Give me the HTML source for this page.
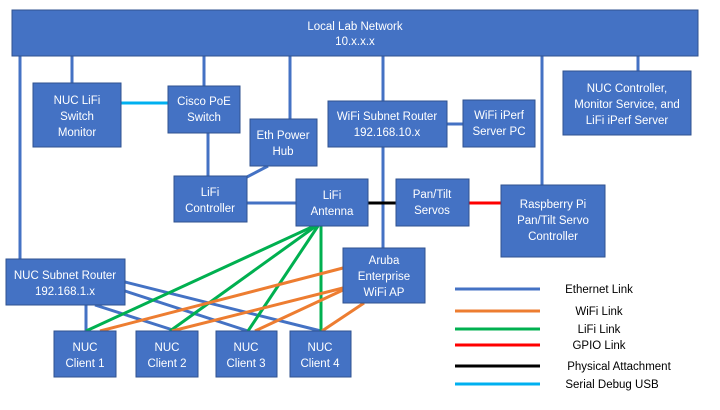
<!DOCTYPE html>
<html><head><style>
body{margin:0;width:720px;height:405px;background:#fff;overflow:hidden}
svg text{font-family:"Liberation Sans",sans-serif;font-size:11.5px;fill:#fff;text-anchor:middle}
.l text{fill:#000;font-size:11.5px}
</style></head><body>
<svg width="720" height="405" xmlns="http://www.w3.org/2000/svg">
<g stroke-width="3" fill="none">
<g stroke="#4472C4">
<line x1="20" y1="56" x2="20" y2="259"/>
<line x1="72" y1="56" x2="72" y2="83"/>
<line x1="204" y1="56" x2="204" y2="86"/>
<line x1="290" y1="56" x2="290" y2="119"/>
<line x1="383" y1="56" x2="383" y2="248"/>
<line x1="542" y1="56" x2="542" y2="185"/>
<line x1="638" y1="56" x2="638" y2="71"/>
<line x1="208" y1="133" x2="208" y2="176"/>
<line x1="268" y1="166" x2="245" y2="178"/>
<line x1="247" y1="203" x2="296" y2="203"/>
<line x1="447" y1="124" x2="463" y2="124"/>
<line x1="125" y1="282" x2="321" y2="331"/>
<line x1="125" y1="291" x2="248" y2="331"/>
<line x1="95" y1="305" x2="176" y2="331"/>
<line x1="86" y1="305" x2="86" y2="331"/>
</g>
<line x1="121" y1="103" x2="168" y2="103" stroke="#00B0F0"/>
<line x1="368" y1="203" x2="396" y2="203" stroke="#000"/>
<line x1="469" y1="203" x2="501" y2="203" stroke="#FF0000"/>
<g stroke="#00B050">
<line x1="314" y1="226" x2="86" y2="331"/>
<line x1="316" y1="226" x2="170" y2="331"/>
<line x1="318" y1="226" x2="248" y2="331"/>
<line x1="321" y1="226" x2="321" y2="331"/>
</g>
<g stroke="#ED7D31">
<line x1="343" y1="268" x2="100" y2="331"/>
<line x1="343" y1="288" x2="172" y2="331"/>
<line x1="343" y1="290" x2="255" y2="331"/>
<line x1="364" y1="303" x2="322" y2="331"/>
</g>
</g>
<g fill="#4472C4" stroke="#2F528F" stroke-width="1">
<rect x="12" y="10" width="686" height="46"/>
<rect x="33" y="83" width="88" height="64"/>
<rect x="168" y="86" width="72" height="47"/>
<rect x="250" y="119" width="67" height="47"/>
<rect x="174" y="176" width="73" height="46"/>
<rect x="296" y="179" width="72" height="47"/>
<rect x="328" y="101" width="119" height="46"/>
<rect x="463" y="100" width="72" height="47"/>
<rect x="563" y="71" width="128" height="64"/>
<rect x="396" y="179" width="73" height="47"/>
<rect x="501" y="185" width="104" height="72"/>
<rect x="343" y="248" width="82" height="55"/>
<rect x="6" y="259" width="119" height="46"/>
<rect x="54" y="331" width="62" height="46"/>
<rect x="136" y="331" width="62" height="46"/>
<rect x="216" y="331" width="61" height="46"/>
<rect x="290" y="331" width="61" height="46"/>
</g>
<text x="355" y="30">Local Lab Network</text><text x="355" y="45">10.x.x.x</text>
<text x="77" y="104">NUC LiFi</text><text x="77" y="120">Switch</text><text x="77" y="136">Monitor</text>
<text x="204" y="105">Cisco  PoE</text><text x="204" y="121">Switch</text>
<text x="283" y="139">Eth Power</text><text x="283" y="155">Hub</text>
<text x="210" y="196">LiFi</text><text x="210" y="212">Controller</text>
<text x="332" y="199">LiFi</text><text x="332" y="215">Antenna</text>
<text x="387" y="120">WiFi Subnet Router</text><text x="387" y="136">192.168.10.x</text>
<text x="499" y="119">WiFi iPerf</text><text x="499" y="135">Server PC</text>
<text x="627" y="92">NUC Controller,</text><text x="627" y="108">Monitor Service, and</text><text x="627" y="124">LiFi iPerf Server</text>
<text x="432" y="198">Pan/Tilt</text><text x="432" y="214">Servos</text>
<text x="553" y="208">Raspberry Pi</text><text x="553" y="224">Pan/Tilt Servo</text><text x="553" y="240">Controller</text>
<text x="384" y="264">Aruba</text><text x="384" y="280">Enterprise</text><text x="384" y="296">WiFi AP</text>
<text x="65" y="279">NUC Subnet Router</text><text x="65" y="295">192.168.1.x</text>
<text x="85" y="351">NUC</text><text x="85" y="367">Client 1</text>
<text x="167" y="351">NUC</text><text x="167" y="367">Client 2</text>
<text x="246" y="351">NUC</text><text x="246" y="367">Client 3</text>
<text x="320" y="351">NUC</text><text x="320" y="367">Client 4</text>
<g stroke-width="3">
<line x1="455" y1="289" x2="540" y2="289" stroke="#4472C4"/>
<line x1="455" y1="311" x2="540" y2="311" stroke="#ED7D31"/>
<line x1="455" y1="329" x2="540" y2="329" stroke="#00B050"/>
<line x1="455" y1="345" x2="540" y2="345" stroke="#FF0000"/>
<line x1="455" y1="366" x2="540" y2="366" stroke="#000"/>
<line x1="455" y1="384" x2="540" y2="384" stroke="#00B0F0"/>
</g>
<g class="l">
<text x="599" y="293">Ethernet Link</text>
<text x="599" y="315">WiFi Link</text>
<text x="599" y="333">LiFi Link</text>
<text x="599" y="349">GPIO Link</text>
<text x="619" y="370">Physical Attachment</text>
<text x="612" y="388">Serial Debug USB</text>
</g>
</svg>
</body></html>
